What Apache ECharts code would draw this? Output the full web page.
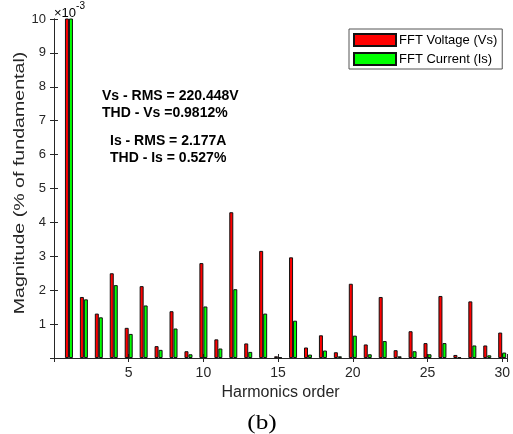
<!DOCTYPE html>
<html>
<head>
<meta charset="utf-8">
<script src="https://cdn.jsdelivr.net/npm/echarts@6/dist/echarts.min.js"></script>
<style>
  html, body { margin: 0; padding: 0; background: #fff; }
  #chart { width: 513px; height: 434px; }
</style>
</head>
<body>
<div id="chart"></div>
<script>
// harmonic order (x) and magnitudes in units of 1e-3 (% of fundamental)
const harmonics = [1, 2, 3, 4, 5, 6, 7, 8, 9, 10, 11, 12, 13, 14, 15,
  16, 17, 18, 19, 20, 21, 22, 23, 24, 25, 26, 27, 28, 29, 30]
// fundamental goes off the top of the axis, it is clipped at 10
const voltage = [12, 1.80, 1.31, 2.50, 0.89, 2.12, 0.35, 1.38, 0.20, 2.80,
  0.55, 4.30, 0.43, 3.16, 0.05, 2.97, 0.31, 0.67, 0.17, 2.19,
  0.40, 1.80, 0.23, 0.79, 0.44, 1.83, 0.09, 1.67, 0.37, 0.75]
const current = [12, 1.73, 1.20, 2.15, 0.71, 1.55, 0.24, 0.87, 0.11, 1.52,
  0.28, 2.03, 0.18, 1.31, 0.02, 1.10, 0.10, 0.22, 0.05, 0.66,
  0.11, 0.50, 0.05, 0.20, 0.11, 0.44, 0.02, 0.37, 0.08, 0.16]
const seriesNames = ['FFT Voltage (Vs)', 'FFT Current (Is)']
const notes = [
  'Vs - RMS = 220.448V',
  'THD - Vs =0.9812%',
  'Is - RMS = 2.177A',
  'THD - Is = 0.527%',
]

const font = 'Liberation Sans'
const ink = '#262626'
const noteFont = 'bold 14px "Liberation Sans"'

const chart = echarts.init(document.getElementById('chart'), null, { renderer: 'canvas' })

const axisBase = {
  axisLine: { show: true, lineStyle: { color: ink, width: 1 } },
  axisTick: { show: true, inside: true, length: 4, lineStyle: { color: ink } },
  splitLine: { show: false },
}

const option = {
  backgroundColor: '#fff',
  animation: false,
  grid: { left: 54, right: 1, top: 19, bottom: 76 },
  legend: {
    orient: 'vertical',
    left: 349,
    top: 29,
    padding: [4, 5, 3, 4],
    itemGap: 5,
    itemWidth: 42,
    itemHeight: 12,
    borderColor: '#555',
    borderWidth: 1,
    backgroundColor: '#fff',
    icon: 'rect',
    textStyle: { fontFamily: font, fontSize: 13, color: '#000', padding: [0, 0, 0, -2] },
    data: seriesNames,
  },
  xAxis: [
    {
      ...axisBase,
      type: 'value',
      min: 0,
      max: 30.33,
      interval: 5,
      name: 'Harmonics order',
      nameLocation: 'middle',
      nameGap: 26,
      nameTextStyle: { fontFamily: font, fontSize: 16, color: ink },
      axisLabel: {
        margin: 8,
        fontFamily: font,
        fontSize: 14,
        color: ink,
        formatter: (v) => (v > 0 && v % 5 === 0 ? String(v) : ''),
      },
    },
    {
      ...axisBase,
      type: 'value',
      position: 'top',
      min: 0,
      max: 30.33,
      interval: 5,
      axisLabel: { show: false },
    },
  ],
  yAxis: [
    {
      ...axisBase,
      type: 'value',
      min: 0,
      max: 10,
      interval: 1,
      axisLabel: {
        margin: 8,
        fontFamily: font,
        fontSize: 13,
        color: ink,
        formatter: (v) => (v > 0 ? String(v) : ''),
      },
    },
    {
      ...axisBase,
      type: 'value',
      position: 'right',
      min: 0,
      max: 10,
      interval: 1,
      axisLabel: { show: false },
    },
  ],
  series: [
    {
      name: seriesNames[0],
      type: 'bar',
      barWidth: 4,
      barGap: '0%',
      clip: true,
      itemStyle: { color: '#ff0000', borderColor: '#111', borderWidth: 1 },
      data: harmonics.map((h, i) => [h, voltage[i]]),
    },
    {
      name: seriesNames[1],
      type: 'bar',
      barWidth: 4,
      barGap: '0%',
      clip: true,
      itemStyle: { color: '#00ff00', borderColor: '#111', borderWidth: 1 },
      data: harmonics.map((h, i) => [h, current[i]]),
    },
  ],
  graphic: [
    {
      type: 'text',
      x: 54,
      y: 1,
      style: {
        text: '{a|×10}{b|-3}',
        rich: {
          a: { fontFamily: font, fontSize: 13, color: ink, padding: [6, 0, 0, 0] },
          b: { fontFamily: font, fontSize: 10, color: ink, verticalAlign: 'top' },
        },
      },
    },
    // y axis title, stretched along its length like the reference
    {
      type: 'text',
      x: 20,
      y: 183,
      rotation: Math.PI / 2,
      scaleX: 1.4,
      style: {
        text: 'Magnitude (% of fundamental)',
        font: '14px "Liberation Sans"',
        fill: ink,
        align: 'center',
        verticalAlign: 'middle',
      },
    },
    { type: 'text', x: 102, y: 96, style: { text: notes[0], font: noteFont, fill: '#000', verticalAlign: 'middle' } },
    { type: 'text', x: 102, y: 113, style: { text: notes[1], font: noteFont, fill: '#000', verticalAlign: 'middle' } },
    { type: 'text', x: 110, y: 141, style: { text: notes[2], font: noteFont, fill: '#000', verticalAlign: 'middle' } },
    { type: 'text', x: 110, y: 158, style: { text: notes[3], font: noteFont, fill: '#000', verticalAlign: 'middle' } },
    {
      type: 'text',
      x: 262,
      y: 423,
      scaleX: 1.15,
      style: { text: '(b)', font: '22px "Liberation Serif"', fill: '#000', align: 'center', verticalAlign: 'middle' },
    },
  ],
}

chart.setOption(option)
</script>
</body>
</html>
